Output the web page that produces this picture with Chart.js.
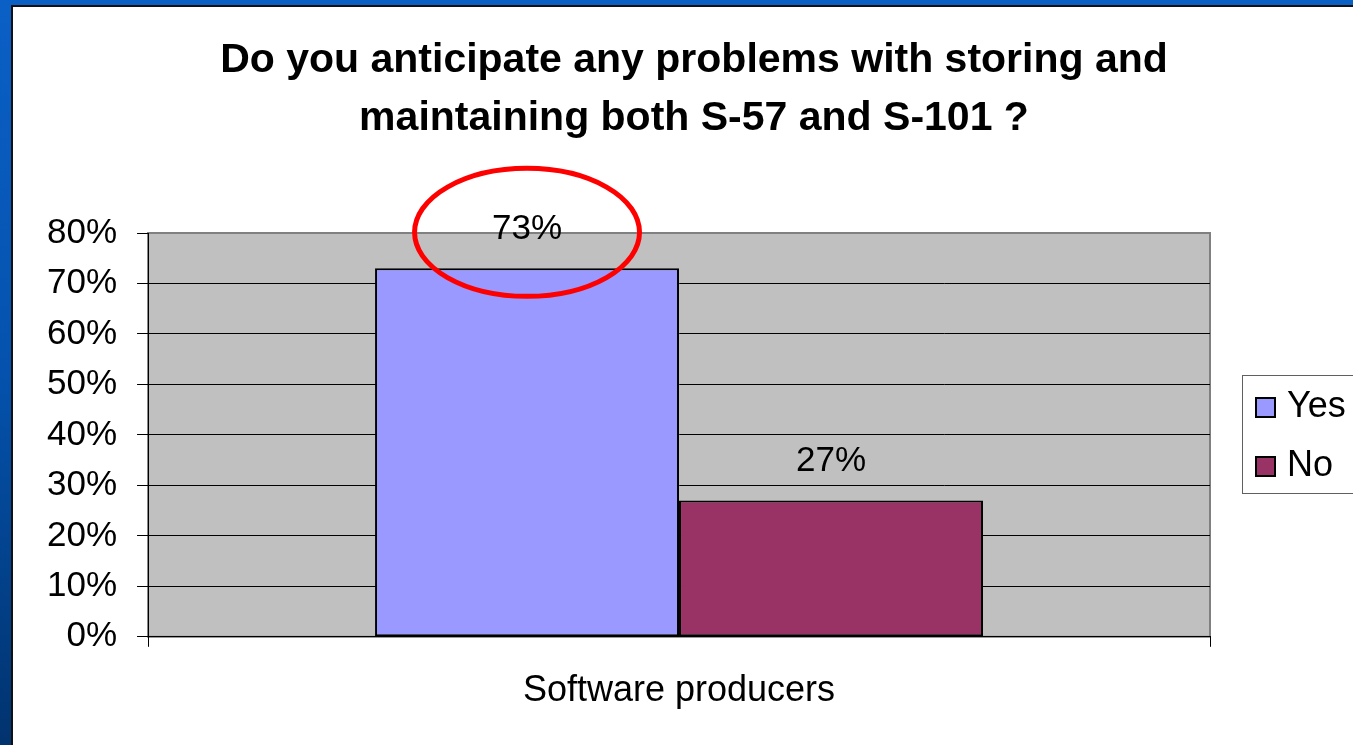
<!DOCTYPE html>
<html>
<head>
<meta charset="utf-8">
<title>S-57 / S-101 survey</title>
<script src="https://cdn.jsdelivr.net/npm/chart.js@4.4.0/dist/chart.umd.min.js"></script>
<style>
  html, body { margin: 0; padding: 0; width: 1353px; height: 745px; overflow: hidden; }
  body { position: relative; background: linear-gradient(to bottom, #0b60c6 0%, #0452ad 50%, #01336e 100%); }
  #panel { position: absolute; left: 11px; top: 5px; right: 0; bottom: 0; background: #fff;
           border-left: 2px solid #111; border-top: 2px solid #111; }
  #wrap { position: absolute; left: 0; top: 0; width: 1353px; height: 745px; }
</style>
</head>
<body>
<div id="panel"></div>
<div id="wrap"><canvas id="chart" width="1353" height="745"></canvas></div>
<script>
const titleLines = ['Do you anticipate any problems with storing and', 'maintaining both S-57 and S-101 ?'];
const categories = ['Software producers'];
const seriesNames = ['Yes', 'No'];
const yesValues = [73];
const noValues = [27];
const seriesColors = ['#9999FF', '#993366'];
const yMin = 0;
const yMax = 80;
const yStep = 10;

const FONT = "'Liberation Sans', Arial, sans-serif";
Chart.defaults.font.family = FONT;
Chart.defaults.color = '#000';

// gray plot background with a thin darker frame
const plotBackground = {
    id: 'plotBackground',
    beforeDraw(chart) {
        const { ctx, chartArea: a } = chart;
        ctx.save();
        ctx.fillStyle = '#C0C0C0';
        ctx.fillRect(a.left, a.top, a.right - a.left, a.bottom - a.top);
        ctx.strokeStyle = '#808080';
        ctx.lineWidth = 2;
        ctx.strokeRect(a.left, a.top, a.right - a.left, a.bottom - a.top);
        ctx.restore();
    }
};

const titleText = {
    id: 'titleText',
    afterDraw(chart) {
        const ctx = chart.ctx;
        ctx.save();
        ctx.font = 'bold 41px ' + FONT;
        ctx.fillStyle = '#000';
        ctx.textAlign = 'center';
        ctx.textBaseline = 'middle';
        titleLines.forEach((line, i) => ctx.fillText(line, 694, 61 + i * 58));
        ctx.restore();
    }
};

// value labels above bars + the red ellipse round the first bar's label
const valueLabels = {
    id: 'valueLabels',
    afterDatasetsDraw(chart) {
        const ctx = chart.ctx;
        ctx.save();
        ctx.font = '35px ' + FONT;
        ctx.fillStyle = '#000';
        ctx.textAlign = 'center';
        ctx.textBaseline = 'middle';
        chart.data.datasets.forEach((ds, di) => {
            chart.getDatasetMeta(di).data.forEach((bar, i) => {
                ctx.fillText(ds.data[i] + '%', bar.x, bar.y - 39);
            });
        });
        const first = chart.getDatasetMeta(0).data[0];
        ctx.strokeStyle = '#FF0000';
        ctx.lineWidth = 5;
        ctx.beginPath();
        ctx.ellipse(first.x, first.y - 36, first.width * 0.37, 64, 0, 0, Math.PI * 2);
        ctx.stroke();
        ctx.restore();
    }
};

const boxLegend = {
    id: 'boxLegend',
    afterDraw(chart) {
        const ctx = chart.ctx;
        ctx.save();
        ctx.fillStyle = '#fff';
        ctx.fillRect(1243, 375, 130, 118);
        ctx.strokeStyle = '#606060';
        ctx.lineWidth = 1;
        ctx.strokeRect(1242.5, 375.5, 130, 118);
        ctx.font = '36px ' + FONT;
        ctx.textBaseline = 'middle';
        chart.data.datasets.forEach((ds, i) => {
            const cy = 407 + i * 59;
            ctx.fillStyle = ds.backgroundColor;
            ctx.fillRect(1256, cy - 9, 19, 19);
            ctx.strokeStyle = '#000';
            ctx.lineWidth = 2;
            ctx.strokeRect(1256, cy - 9, 19, 19);
            ctx.fillStyle = '#000';
            ctx.fillText(ds.label, 1287, cy);
        });
        ctx.restore();
    }
};

new Chart(document.getElementById('chart'), {
    type: 'bar',
    data: {
        labels: categories,
        datasets: [
            {
                label: seriesNames[0],
                data: yesValues,
                backgroundColor: seriesColors[0],
                borderColor: '#000',
                borderWidth: 2,
                borderSkipped: false
            },
            {
                label: seriesNames[1],
                data: noValues,
                backgroundColor: seriesColors[1],
                borderColor: '#000',
                borderWidth: 2,
                borderSkipped: false
            }
        ]
    },
    options: {
        responsive: false,
        animation: false,
        devicePixelRatio: 1,
        layout: { padding: { top: 233, left: 27, right: 143, bottom: 9 } },
        datasets: { bar: { barPercentage: 1, categoryPercentage: 0.5725 } },
        plugins: {
            legend: { display: false },
            title: { display: false },
            tooltip: { enabled: false }
        },
        scales: {
            x: {
                grid: { drawOnChartArea: false, color: '#000', tickLength: 10 },
                border: { color: '#000', width: 1 },
                ticks: { font: { size: 36 }, color: '#000', padding: 23 }
            },
            y: {
                min: yMin,
                max: yMax,
                ticks: {
                    stepSize: yStep,
                    font: { size: 35 },
                    color: '#000',
                    padding: 20,
                    callback: v => v + '%'
                },
                grid: {
                    color: c => c.tick && c.tick.value === yMax ? '#808080' : '#000',
                    tickColor: '#000',
                    tickLength: 11,
                    lineWidth: 1
                },
                border: { color: '#000', width: 1 }
            }
        }
    },
    plugins: [plotBackground, valueLabels, titleText, boxLegend]
});
</script>
</body>
</html>
